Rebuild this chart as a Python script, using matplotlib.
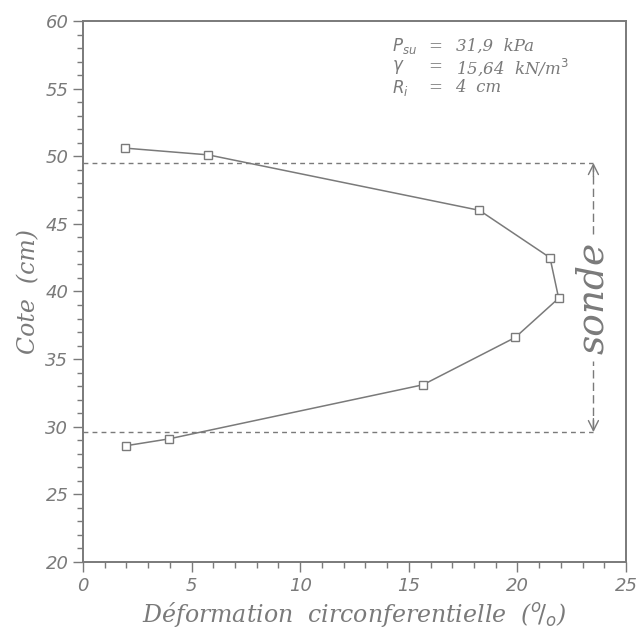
import matplotlib
matplotlib.use('Agg')
import matplotlib.pyplot as plt
from matplotlib.ticker import MultipleLocator

# deformation profile along the probe
deformation = [2.0, 3.95, 15.65, 19.9, 21.9, 21.5, 18.25, 5.77, 1.94]
cote = [28.6, 29.1, 33.1, 36.6, 39.5, 42.5, 46.0, 50.1, 50.6]

# probe limits
sonde_bas = 29.6
sonde_haut = 49.5
sonde_x = 23.5

params_names = [r'$P_{su}$', r'$\gamma$', r'$R_i$']
params_values = ['31,9  kPa', r'15,64  kN/m$^3$', '4  cm']

grey = '#7a7a7a'
serif = dict(family='DejaVu Serif', style='italic', color=grey)

fig = plt.figure(figsize=(6.41, 6.34), dpi=100)
ax = fig.add_axes([0.1295, 0.1136, 0.8471, 0.8533])

ax.plot(deformation, cote, color=grey, lw=1.1, marker='s', ms=6,
        mfc='white', mec=grey, mew=1.0)

# dashed probe limits
for yl in (sonde_bas, sonde_haut):
    ax.plot([0, sonde_x], [yl, yl], color=grey, lw=1.0, ls=(0, (3.5, 3)))

# "<--- sonde --->" marker
mid = (sonde_bas + sonde_haut) / 2
ax.text(sonde_x, mid, 'sonde', rotation=90, ha='center', va='center',
        fontsize=27, **serif)
half = 4.7
ax.plot([sonde_x, sonde_x], [mid + half, sonde_haut - 0.3], color=grey,
        lw=1.0, ls=(0, (6, 3)))
ax.plot([sonde_x, sonde_x], [sonde_bas + 0.3, mid - half], color=grey,
        lw=1.0, ls=(0, (6, 3)))
ax.annotate('', xy=(sonde_x, sonde_haut), xytext=(sonde_x, sonde_haut - 1.0),
            arrowprops=dict(arrowstyle='->', color=grey, lw=1.0,
                            mutation_scale=18, shrinkA=0, shrinkB=0))
ax.annotate('', xy=(sonde_x, sonde_bas), xytext=(sonde_x, sonde_bas + 1.0),
            arrowprops=dict(arrowstyle='->', color=grey, lw=1.0,
                            mutation_scale=18, shrinkA=0, shrinkB=0))

# soil parameters
for i, (n, v) in enumerate(zip(params_names, params_values)):
    yy = 0.953 - i * 0.038
    ax.text(0.569, yy, n, transform=ax.transAxes, fontsize=12, va='center',
            **serif)
    ax.text(0.635, yy, '=', transform=ax.transAxes, fontsize=12, va='center',
            **serif)
    ax.text(0.686, yy, v, transform=ax.transAxes, fontsize=12, va='center',
            **serif)

ax.set_xlim(0, 25)
ax.set_ylim(20, 60)
ax.xaxis.set_major_locator(MultipleLocator(5))
ax.xaxis.set_minor_locator(MultipleLocator(1))
ax.yaxis.set_major_locator(MultipleLocator(5))
ax.yaxis.set_minor_locator(MultipleLocator(1))
ax.tick_params(which='both', direction='out', color=grey, width=1.0,
               labelcolor=grey, labelsize=13)
ax.tick_params(which='major', length=7)
ax.tick_params(which='minor', length=4)
for lab in ax.get_xticklabels() + ax.get_yticklabels():
    lab.set_fontstyle('italic')
for s in ax.spines.values():
    s.set_color(grey)
    s.set_linewidth(1.4)

ax.set_xlabel(r'Déformation  circonferentielle  ($^o\!/_o$)', fontsize=17,
              labelpad=4, **serif)
ax.set_ylabel('Cote  (cm)', fontsize=17, labelpad=4, **serif)

fig.savefig('out.png', dpi=100)
